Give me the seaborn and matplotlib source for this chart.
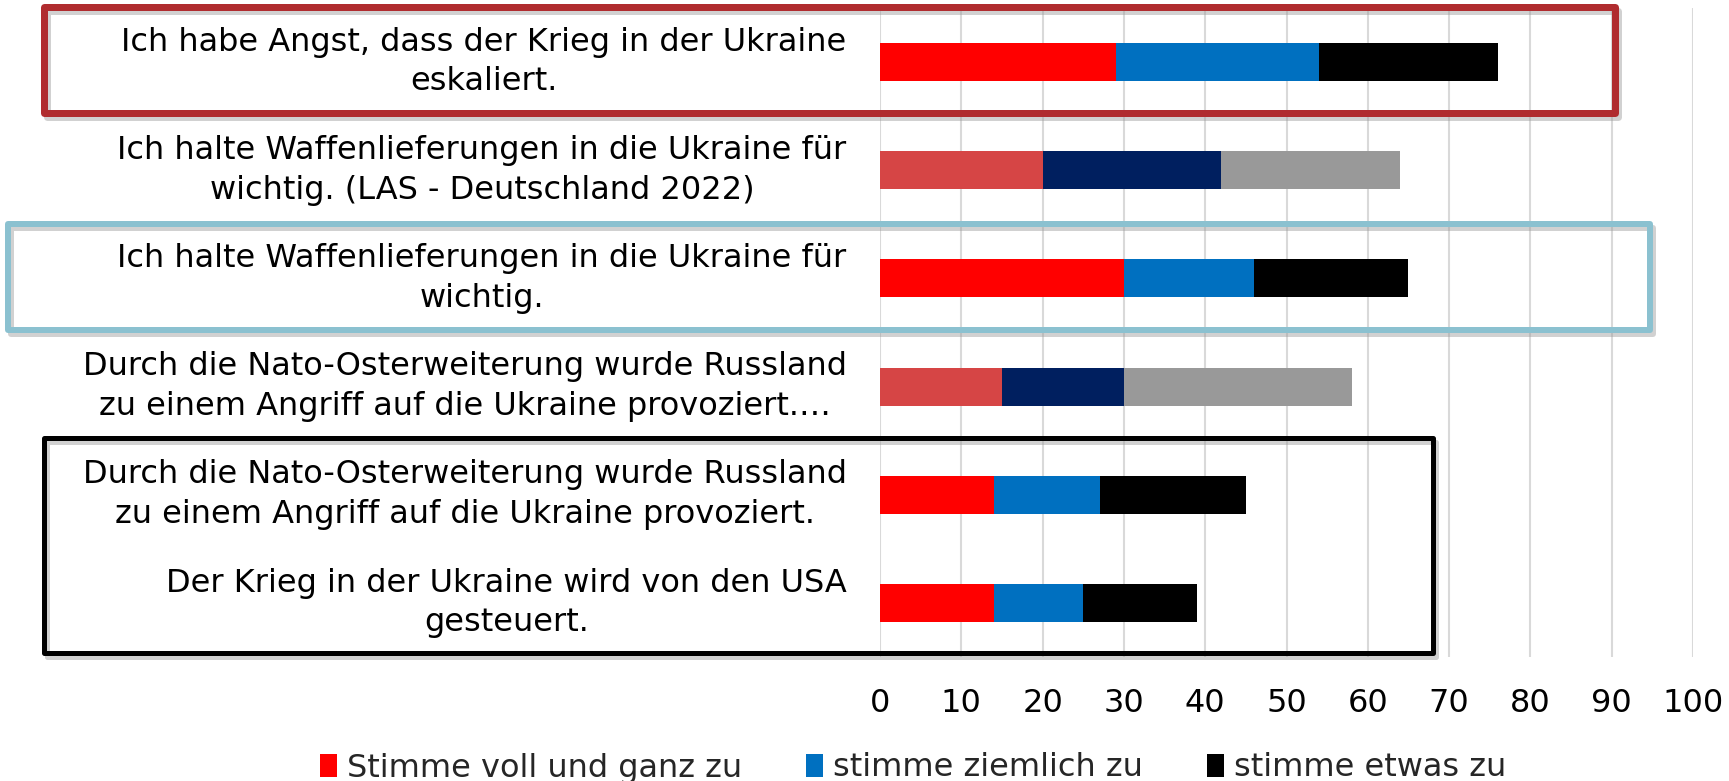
import matplotlib
matplotlib.use("Agg")
import matplotlib.pyplot as plt
from matplotlib.patches import Rectangle, Patch
import numpy as np
import pandas as pd
import seaborn as sns

sns.set_theme(style="white")
plt.rcParams['font.family'] = ['DejaVu Sans']

# data (percent)
statements = [
    "Ich habe Angst, dass der Krieg in der Ukraine\neskaliert.",
    "Ich halte Waffenlieferungen in die Ukraine für\nwichtig. (LAS - Deutschland 2022)",
    "Ich halte Waffenlieferungen in die Ukraine für\nwichtig.",
    "Durch die Nato-Osterweiterung wurde Russland\nzu einem Angriff auf die Ukraine provoziert.…",
    "Durch die Nato-Osterweiterung wurde Russland\nzu einem Angriff auf die Ukraine provoziert.",
    "Der Krieg in der Ukraine wird von den USA\ngesteuert.",
]
voll_und_ganz = [29, 20, 30, 15, 14, 14]
ziemlich = [25, 22, 16, 15, 13, 11]
etwas = [22, 22, 19, 28, 18, 14]

legend_labels = ["Stimme voll und ganz zu", "stimme ziemlich zu", "stimme etwas zu"]

# rows 2 and 4 (comparison study) use a different palette
comparison = [False, True, False, True, False, False]
col_main = ["#FF0000", "#0070C0", "#000000"]
col_comp = ["#D64545", "#001F5F", "#999999"]

df = pd.DataFrame({
    "statement": statements,
    "s1": voll_und_ganz,
    "s2": ziemlich,
    "s3": etwas,
})
df["c1"] = df["s1"]
df["c2"] = df["s1"] + df["s2"]
df["c3"] = df["c2"] + df["s3"]

FS = 23
W, H = 1729, 781
fig = plt.figure(figsize=(W / 100, H / 100), dpi=100)
ax = fig.add_axes([880 / W, 1 - 657 / H, (1693 - 880) / W, (657 - 8) / H])

# stacked bars: draw the running totals from longest to shortest
for k, col in zip([3, 2, 1], ["c3", "c2", "c1"]):
    pal = {s: (col_comp if c else col_main)[k - 1] for s, c in zip(statements, comparison)}
    sns.barplot(data=df, x=col, y="statement", hue="statement", palette=pal,
                order=statements, width=0.35, saturation=1, legend=False,
                linewidth=0, ax=ax)

ax.set_xlim(0, 100)
ax.set_ylim(5.5, -0.5)
ax.set_xticks(np.arange(0, 101, 10))
ax.grid(axis="x", color="#D9D9D9", linewidth=1.5)
ax.set_axisbelow(True)
for sp in ax.spines.values():
    sp.set_visible(False)
ax.set_xlabel("")
ax.set_ylabel("")
ax.tick_params(axis="x", length=0, pad=22, labelsize=FS, labelcolor="black")
ax.tick_params(axis="y", length=0, pad=24, labelsize=FS, labelcolor="black")
for t in ax.get_yticklabels():
    t.set_multialignment("center")
    t.set_verticalalignment("center")
    t.set_linespacing(1.36)

# highlight boxes around some of the statements (with a soft shadow)
boxes = [
    (44, 7, 1615, 113, "#B02C2F", 7),
    (8, 224, 1650, 330, "#8BC1D0", 6),
    (44, 438, 1433, 653, "#000000", 5),
]
for x0, y0, x1, y1, ec, lw in boxes:
    sh = Rectangle(((x0 + 3) / W, 1 - (y1 + 4) / H), (x1 - x0) / W, (y1 - y0) / H,
                   transform=fig.transFigure, fill=False, edgecolor="#9A9A9A",
                   alpha=0.45, linewidth=lw * 0.72, joinstyle="round")
    fig.add_artist(sh)
    r = Rectangle((x0 / W, 1 - y1 / H), (x1 - x0) / W, (y1 - y0) / H,
                  transform=fig.transFigure, fill=False, edgecolor=ec,
                  linewidth=lw * 0.72, joinstyle="round")
    fig.add_artist(r)

handles = [Patch(facecolor=c, edgecolor="none") for c in col_main]
fig.legend(handles, legend_labels, loc="center", bbox_to_anchor=(0.528, (H - 768) / H),
           ncol=3, frameon=False, fontsize=FS, handlelength=0.55, handleheight=0.7,
           handletextpad=0.3, columnspacing=2.0, borderpad=0)

fig.savefig("out.png", dpi=100)
